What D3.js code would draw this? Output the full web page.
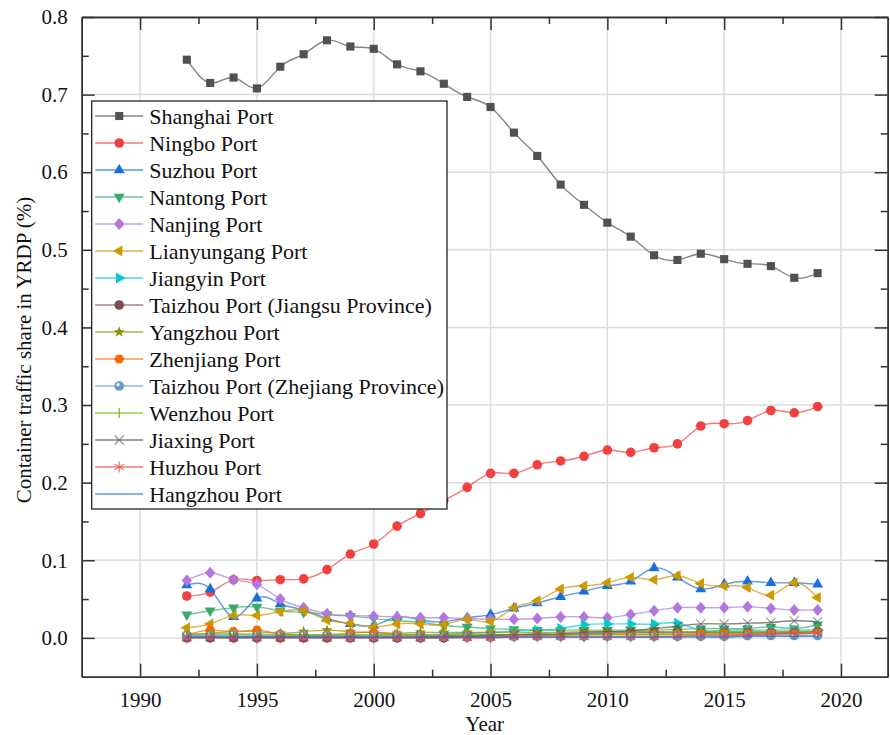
<!DOCTYPE html>
<html>
<head>
<meta charset="utf-8">
<script src="https://cdn.jsdelivr.net/npm/d3@7"></script>
<style>
  body { margin: 0; background: #fff; }
  svg { display: block; }
</style>
</head>
<body>
<svg id="chart" width="890" height="735" font-family="Liberation Serif"></svg>
<script>
// ---- data: container traffic share of each port in the YRD port group ----
const years = [1992, 1993, 1994, 1995, 1996, 1997, 1998, 1999, 2000, 2001, 2002, 2003, 2004, 2005,
               2006, 2007, 2008, 2009, 2010, 2011, 2012, 2013, 2014, 2015, 2016, 2017, 2018, 2019];

const shanghai    = [0.745, 0.715, 0.722, 0.708, 0.736, 0.752, 0.770, 0.762, 0.759, 0.739, 0.730, 0.714, 0.697, 0.684,
                     0.651, 0.621, 0.584, 0.558, 0.535, 0.517, 0.493, 0.487, 0.495, 0.488, 0.482, 0.479, 0.464, 0.470];
const ningbo      = [0.054, 0.059, 0.075, 0.074, 0.075, 0.076, 0.088, 0.108, 0.121, 0.144, 0.160, 0.177, 0.194, 0.212,
                     0.212, 0.223, 0.228, 0.234, 0.242, 0.239, 0.245, 0.250, 0.273, 0.276, 0.280, 0.293, 0.290, 0.298];
const suzhou      = [0.068, 0.063, 0.027, 0.051, 0.044, 0.036, 0.025, 0.018, 0.016, 0.027, 0.023, 0.021, 0.026, 0.030,
                     0.038, 0.045, 0.053, 0.060, 0.067, 0.073, 0.090, 0.078, 0.063, 0.069, 0.073, 0.071, 0.071, 0.069];
const nantong     = [0.030, 0.035, 0.039, 0.040, 0.035, 0.033, 0.030, 0.028, 0.025, 0.022, 0.020, 0.016, 0.014, 0.012,
                     0.011, 0.010, 0.010, 0.010, 0.010, 0.010, 0.010, 0.011, 0.012, 0.012, 0.012, 0.014, 0.012, 0.017];
const nanjing     = [0.074, 0.084, 0.075, 0.069, 0.050, 0.039, 0.031, 0.029, 0.028, 0.027, 0.026, 0.026, 0.025, 0.024,
                     0.024, 0.025, 0.027, 0.027, 0.026, 0.030, 0.035, 0.039, 0.039, 0.039, 0.040, 0.038, 0.036, 0.036];
const lianyungang = [0.013, 0.018, 0.029, 0.029, 0.034, 0.035, 0.023, 0.019, 0.014, 0.018, 0.018, 0.017, 0.024, 0.021,
                     0.039, 0.048, 0.063, 0.067, 0.071, 0.078, 0.075, 0.080, 0.070, 0.067, 0.065, 0.055, 0.071, 0.052];
const jiangyin    = [0.001, 0.002, 0.002, 0.002, 0.002, 0.002, 0.002, 0.003, 0.003, 0.004, 0.004, 0.005, 0.006, 0.007,
                     0.009, 0.010, 0.012, 0.017, 0.018, 0.018, 0.018, 0.019, 0.010, 0.010, 0.010, 0.010, 0.010, 0.010];
const taizhouJS   = [0.000, 0.000, 0.000, 0.000, 0.000, 0.000, 0.000, 0.000, 0.000, 0.000, 0.000, 0.000, 0.001, 0.001,
                     0.002, 0.003, 0.004, 0.005, 0.006, 0.007, 0.007, 0.007, 0.007, 0.007, 0.007, 0.007, 0.007, 0.008];
const yangzhou    = [0.003, 0.006, 0.008, 0.008, 0.006, 0.008, 0.010, 0.008, 0.007, 0.006, 0.007, 0.007, 0.007, 0.007,
                     0.007, 0.007, 0.007, 0.008, 0.008, 0.008, 0.008, 0.008, 0.008, 0.008, 0.008, 0.008, 0.008, 0.009];
const zhenjiang   = [0.004, 0.010, 0.008, 0.010, 0.005, 0.004, 0.004, 0.006, 0.007, 0.004, 0.003, 0.003, 0.004, 0.004,
                     0.004, 0.004, 0.004, 0.004, 0.005, 0.005, 0.005, 0.005, 0.005, 0.005, 0.005, 0.005, 0.005, 0.006];
const taizhouZJ   = [0.003, 0.003, 0.004, 0.003, 0.003, 0.003, 0.003, 0.002, 0.002, 0.002, 0.002, 0.002, 0.002, 0.002,
                     0.002, 0.002, 0.002, 0.002, 0.002, 0.002, 0.002, 0.002, 0.002, 0.002, 0.003, 0.003, 0.003, 0.003];
const wenzhou     = [0.005, 0.005, 0.005, 0.005, 0.004, 0.004, 0.004, 0.004, 0.004, 0.004, 0.004, 0.004, 0.004, 0.004,
                     0.004, 0.004, 0.004, 0.004, 0.004, 0.004, 0.004, 0.004, 0.005, 0.005, 0.005, 0.005, 0.006, 0.006];
const jiaxing     = [0.001, 0.001, 0.001, 0.001, 0.001, 0.001, 0.001, 0.001, 0.001, 0.001, 0.001, 0.002, 0.002, 0.003,
                     0.004, 0.005, 0.005, 0.007, 0.008, 0.009, 0.012, 0.015, 0.018, 0.018, 0.019, 0.020, 0.022, 0.021];
const huzhou      = [0.000, 0.000, 0.000, 0.000, 0.000, 0.000, 0.000, 0.000, 0.000, 0.000, 0.000, 0.000, 0.000, 0.000,
                     0.001, 0.001, 0.001, 0.001, 0.001, 0.001, 0.001, 0.002, 0.003, 0.003, 0.004, 0.005, 0.006, 0.006];
const hangzhou    = [0.001, 0.001, 0.001, 0.001, 0.001, 0.001, 0.001, 0.001, 0.001, 0.001, 0.001, 0.001, 0.001, 0.001,
                     0.001, 0.001, 0.001, 0.001, 0.001, 0.001, 0.001, 0.001, 0.001, 0.001, 0.002, 0.002, 0.002, 0.002];

const seriesNames = ["Shanghai Port", "Ningbo Port", "Suzhou Port", "Nantong Port", "Nanjing Port",
                     "Lianyungang Port", "Jiangyin Port", "Taizhou Port (Jiangsu Province)", "Yangzhou Port",
                     "Zhenjiang Port", "Taizhou Port (Zhejiang Province)", "Wenzhou Port", "Jiaxing Port",
                     "Huzhou Port", "Hangzhou Port"];
const seriesValues = [shanghai, ningbo, suzhou, nantong, nanjing, lianyungang, jiangyin, taizhouJS,
                      yangzhou, zhenjiang, taizhouZJ, wenzhou, jiaxing, huzhou, hangzhou];
const seriesColors = ["#515151", "#F14040", "#1A6FDF", "#37AD6B", "#B177DE", "#CC9900", "#00CBCC",
                      "#7D4E4E", "#8E8E00", "#FB6501", "#6699CC", "#6FB802", "#515151", "#F14040", "#1A6FDF"];
const seriesShapes = ["square", "circle", "triUp", "triDown", "diamond", "triLeft", "triRight",
                      "circle", "star", "hexagon", "sphere", "bar", "cross", "asterisk", "none"];

const xMajorTicks = [1990, 1995, 2000, 2005, 2010, 2015, 2020];
const xMinorTicks = [1992.5, 1997.5, 2002.5, 2007.5, 2012.5, 2017.5];
const yMajorTicks = [0.0, 0.1, 0.2, 0.3, 0.4, 0.5, 0.6, 0.7, 0.8];
const yMinorTicks = [0.05, 0.15, 0.25, 0.35, 0.45, 0.55, 0.65, 0.75];

// ---- layout ----
const FONT = "Liberation Serif";
const svg = d3.select("#chart");
const plot = { left: 81.7, right: 887.7, top: 17, bottom: 676.7 };

const x = d3.scaleLinear().domain([1987.5, 2022]).range([plot.left, plot.right]);
const y = d3.scaleLinear().domain([-0.05, 0.8]).range([plot.bottom, plot.top]);

const axisColor = "#333";
const gridColor = "#dcdcdc";

// grid
const grid = svg.append("g");
grid.selectAll("line.gx").data(xMajorTicks).join("line")
  .attr("x1", d => x(d)).attr("x2", d => x(d))
  .attr("y1", plot.top).attr("y2", plot.bottom)
  .attr("stroke", gridColor).attr("stroke-width", 1.5);
grid.selectAll("line.gy").data(yMajorTicks).join("line")
  .attr("y1", d => y(d)).attr("y2", d => y(d))
  .attr("x1", plot.left).attr("x2", plot.right)
  .attr("stroke", gridColor).attr("stroke-width", 1.5);

// axes (ticks point into the plot); replace d3's default sans-serif on the axis groups
function styleAxis(g) {
  g.attr("font-family", FONT).attr("font-size", 21);
  g.selectAll("path.domain").attr("stroke", axisColor).attr("stroke-width", 1.5);
  g.selectAll(".tick line").attr("stroke", axisColor).attr("stroke-width", 1.5);
  g.selectAll(".tick text").attr("fill", "#111").attr("font-family", FONT);
}

const fmtY = d3.format(".1f");

svg.append("g").attr("transform", `translate(0,${plot.bottom})`)
  .call(d3.axisBottom(x).tickValues(xMajorTicks).tickFormat(d3.format("d"))
    .tickSizeInner(-13).tickSizeOuter(0).tickPadding(15))
  .call(styleAxis);
svg.append("g").attr("transform", `translate(0,${plot.bottom})`)
  .call(d3.axisBottom(x).tickValues(xMinorTicks).tickFormat("").tickSizeInner(-7).tickSizeOuter(0))
  .call(styleAxis);

svg.append("g").attr("transform", `translate(0,${plot.top})`)
  .call(d3.axisTop(x).tickValues(xMajorTicks).tickFormat("").tickSizeInner(-13).tickSizeOuter(0))
  .call(styleAxis);
svg.append("g").attr("transform", `translate(0,${plot.top})`)
  .call(d3.axisTop(x).tickValues(xMinorTicks).tickFormat("").tickSizeInner(-7).tickSizeOuter(0))
  .call(styleAxis);

svg.append("g").attr("transform", `translate(${plot.left},0)`)
  .call(d3.axisLeft(y).tickValues(yMajorTicks).tickFormat(fmtY)
    .tickSizeInner(-13).tickSizeOuter(0).tickPadding(14))
  .call(styleAxis);
svg.append("g").attr("transform", `translate(${plot.left},0)`)
  .call(d3.axisLeft(y).tickValues(yMinorTicks).tickFormat("").tickSizeInner(-7).tickSizeOuter(0))
  .call(styleAxis);

svg.append("g").attr("transform", `translate(${plot.right},0)`)
  .call(d3.axisRight(y).tickValues(yMajorTicks).tickFormat("").tickSizeInner(-13).tickSizeOuter(0))
  .call(styleAxis);
svg.append("g").attr("transform", `translate(${plot.right},0)`)
  .call(d3.axisRight(y).tickValues(yMinorTicks).tickFormat("").tickSizeInner(-7).tickSizeOuter(0))
  .call(styleAxis);

// axis titles
svg.append("text")
  .attr("x", (plot.left + plot.right) / 2).attr("y", 731)
  .attr("text-anchor", "middle").attr("font-size", 21).attr("fill", "#111")
  .attr("font-family", FONT)
  .text("Year");
svg.append("text")
  .attr("transform", `translate(31,${350}) rotate(-90)`)
  .attr("text-anchor", "middle").attr("font-size", 21).attr("fill", "#111")
  .attr("font-family", FONT)
  .text("Container traffic share in YRDP (%)");

// ---- markers ----
const symPath = (type, size) => d3.symbol().type(type).size(size)();

function drawMarker(g, shape, color) {
  switch (shape) {
    case "square":
      g.append("path").attr("d", symPath(d3.symbolSquare, 66)).attr("fill", color); break;
    case "circle":
      g.append("circle").attr("r", 4.8).attr("fill", color); break;
    case "triUp":
      g.append("path").attr("d", symPath(d3.symbolTriangle, 52)).attr("fill", color); break;
    case "triDown":
      g.append("path").attr("d", symPath(d3.symbolTriangle, 52)).attr("transform", "rotate(180)").attr("fill", color); break;
    case "triLeft":
      g.append("path").attr("d", symPath(d3.symbolTriangle, 52)).attr("transform", "rotate(-90)").attr("fill", color); break;
    case "triRight":
      g.append("path").attr("d", symPath(d3.symbolTriangle, 52)).attr("transform", "rotate(90)").attr("fill", color); break;
    case "diamond":
      g.append("path").attr("d", "M0,-6L5.2,0L0,6L-5.2,0Z").attr("fill", color); break;
    case "star":
      g.append("path").attr("d", symPath(d3.symbolStar, 40)).attr("fill", color); break;
    case "hexagon": {
      const r = 5;
      const pts = d3.range(6).map(i => [r * Math.cos(Math.PI / 3 * i), r * Math.sin(Math.PI / 3 * i)]);
      g.append("path").attr("d", "M" + pts.join("L") + "Z").attr("fill", color); break;
    }
    case "sphere":
      g.append("circle").attr("r", 4.8).attr("fill", color);
      g.append("circle").attr("r", 1.8).attr("cx", -1.2).attr("cy", -1.2).attr("fill", "#e8f0fa"); break;
    case "bar":
      g.append("path").attr("d", "M0,-5V5").attr("stroke", color).attr("stroke-width", 1.2); break;
    case "cross":
      g.append("path").attr("d", "M-4.5,-4.5L4.5,4.5M-4.5,4.5L4.5,-4.5")
        .attr("stroke", color).attr("stroke-opacity", 0.6).attr("stroke-width", 1.2); break;
    case "asterisk":
      g.append("path").attr("d", "M0,-5.5V5.5M-4.8,-2.8L4.8,2.8M-4.8,2.8L4.8,-2.8")
        .attr("stroke", color).attr("stroke-opacity", 0.75).attr("stroke-width", 1.2); break;
    default: break;
  }
}

// ---- series ----
const line = d3.line().x(d => x(d.year)).y(d => y(d.value)).curve(d3.curveNatural);
const seriesLayer = svg.append("g");

seriesNames.forEach((name, i) => {
  const pts = years.map((yr, k) => ({ year: yr, value: seriesValues[i][k] }));
  const g = seriesLayer.append("g");
  g.append("path").datum(pts).attr("d", line)
    .attr("fill", "none").attr("stroke", seriesColors[i])
    .attr("stroke-opacity", 0.7).attr("stroke-width", 1.4);
  g.selectAll("g.m").data(pts).join("g")
    .attr("transform", d => `translate(${x(d.year)},${y(d.value)})`)
    .each(function () { drawMarker(d3.select(this), seriesShapes[i], seriesColors[i]); });
});

// ---- legend ----
const legend = svg.append("g").attr("transform", "translate(91.7,101)");
legend.append("rect").attr("width", 355.3).attr("height", 408)
  .attr("fill", "#fff").attr("stroke", "#111").attr("stroke-width", 1.2);
seriesNames.forEach((name, i) => {
  const row = legend.append("g").attr("transform", `translate(0,${15 + i * 27})`);
  row.append("line").attr("x1", 3.5).attr("x2", 51.5).attr("y1", 0).attr("y2", 0)
    .attr("stroke", seriesColors[i]).attr("stroke-opacity", 0.7).attr("stroke-width", 1.4);
  drawMarker(row.append("g").attr("transform", "translate(27.5,0)"), seriesShapes[i], seriesColors[i]);
  row.append("text").attr("x", 57.5).attr("y", 0).attr("dy", "0.35em").attr("fill", "#111")
    .attr("font-size", 22).attr("font-family", FONT).text(name);
});
</script>
</body>
</html>
